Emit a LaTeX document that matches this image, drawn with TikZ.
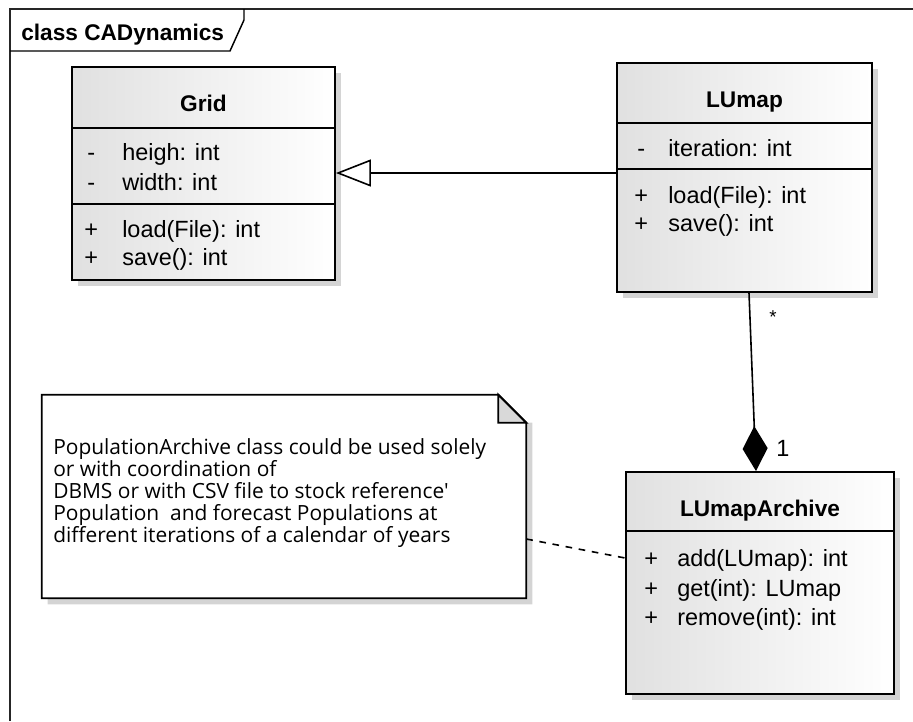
\documentclass[tikz,border=0pt]{standalone}
\usepackage{fontspec}
\setmainfont{Liberation Sans}
\newfontfamily\notefont{Open Sans}
\usetikzlibrary{arrows.meta,shadows,calc}
\tikzset{
  px/.style={x=0.75pt,y=-0.75pt},
  classbox/.style={draw=black, line width=1.4pt, inner sep=0pt, left color=black!12, right color=white,
    drop shadow={shadow xshift=4.5pt, shadow yshift=-4.5pt, fill=black!17, opacity=1}},
  sep/.style={line width=1.4pt},
  ctitle/.style={font=\fontsize{17}{20}\selectfont\bfseries, inner sep=0pt, anchor=base},
  ctext/.style={font=\fontsize{17.6}{20}\selectfont, inner sep=0pt, anchor=base west},
  conn/.style={line width=1.2pt, draw=black},
}
\begin{document}
\begin{tikzpicture}[px]
\useasboundingbox (0,0) rectangle (913,721);
% frame
\draw[line width=1.3pt, black!85] (10,721) -- (10,9) -- (913,9);
\draw[line width=1.1pt] (10,51) -- (230,51) -- (244,20) -- (244,9);
\node[font=\fontsize{17}{20}\selectfont\bfseries, inner sep=0pt, anchor=base west] (frametitle) at (21,40) {class CADynamics};

% Grid
\node[classbox, minimum width=263*0.75pt, minimum height=213*0.75pt] (grid) at (203.5,173.5) {};
\draw[sep] (72,128) -- (335,128);
\draw[sep] (72,204) -- (335,204);
\node[ctitle] (gridt) at (203.5,111) {Grid};
\node[ctext] (g1v) at (87,160) {-};
\node[ctext] (g1) at (122,160) {heigh: int};
\node[ctext] (g2v) at (87,190) {-};
\node[ctext] (g2) at (122,190) {width: int};
\node[ctext] (g3v) at (84,237) {+};
\node[ctext] (g3) at (122,237) {load(File): int};
\node[ctext] (g4v) at (84,265) {+};
\node[ctext] (g4) at (122,265) {save(): int};

% LUmap
\node[classbox, minimum width=255*0.75pt, minimum height=229*0.75pt] (lumap) at (744.5,177.5) {};
\draw[sep] (617,123) -- (872,123);
\draw[sep] (617,169) -- (872,169);
\node[ctitle] (lumapt) at (744.5,107) {LUmap};
\node[ctext] (l1v) at (637,156) {-};
\node[ctext] (l1) at (668,156) {iteration: int};
\node[ctext] (l2v) at (634,203) {+};
\node[ctext] (l2) at (668,203) {load(File): int};
\node[ctext] (l3v) at (634,231) {+};
\node[ctext] (l3) at (668,231) {save(): int};

% LUmapArchive
\node[classbox, minimum width=268*0.75pt, minimum height=222*0.75pt] (arch) at (760,583) {};
\draw[sep] (626,531) -- (894,531);
\node[ctitle] (archt) at (760,516) {LUmapArchive};
\node[ctext] (a1v) at (644,566) {+};
\node[ctext] (a1) at (677,566) {add(LUmap): int};
\node[ctext] (a2v) at (644,596) {+};
\node[ctext] (a2) at (677,596) {get(int): LUmap};
\node[ctext] (a3v) at (644,625) {+};
\node[ctext] (a3) at (677,625) {remove(int): int};

% note
\node[inner sep=0pt, minimum width=484*0.75pt, minimum height=203*0.75pt] (note) at (284,496.5) {};
\fill[black!17] ($(note.north east)+(0,28)$) -- ++(6,0) -- ($(note.south east)+(6,6)$) -- ($(note.south west)+(6,6)$) -- ($(note.south west)+(6,0)$) -- (note.south east) -- cycle;
\draw[line width=1.4pt, fill=white] (note.north west) -- ($(note.north east)+(-28,0)$) -- ($(note.north east)+(0,28)$) -- (note.south east) -- (note.south west) -- cycle;
\draw[line width=1.4pt, fill=black!15] ($(note.north east)+(-28,0)$) -- ($(note.north east)+(-28,28)$) -- ($(note.north east)+(0,28)$) -- cycle;
\node[inner sep=0pt, anchor=west, align=left, font=\notefont\fontsize{15.7}{16.5}\selectfont] (notet) at (53,493) {PopulationArchive class could be used solely\\or with coordination of\\DBMS or with CSV file to stock reference'\\Population\ \ and forecast Populations at\\different iterations of a calendar of years};

% generalization
\coordinate (gy) at (0,173);
\draw[conn, -{Triangle[open, fill=white, length=35*0.75pt, width=27*0.75pt, line width=1.2pt]}] (lumap.west |- gy) -- (grid.east |- gy);

% composition
\draw[conn, -{Diamond[length=45*0.75pt, width=25*0.75pt]}] ([xshift=4.5*0.75pt]lumap.south) -- ([xshift=-4*0.75pt]arch.north);
\node[inner sep=0pt, font=\fontsize{14}{16}\selectfont] (mstar) at (773,317) {*};
\node[inner sep=0pt, font=\fontsize{17.6}{20}\selectfont, anchor=base] (mone) at (783,456) {1};

% note link
\draw[conn, dash pattern=on 5pt off 5pt] ($(note.east)+(0,42.5)$) -- ($(arch.west)+(0,-25)$);
\end{tikzpicture}
\end{document}
